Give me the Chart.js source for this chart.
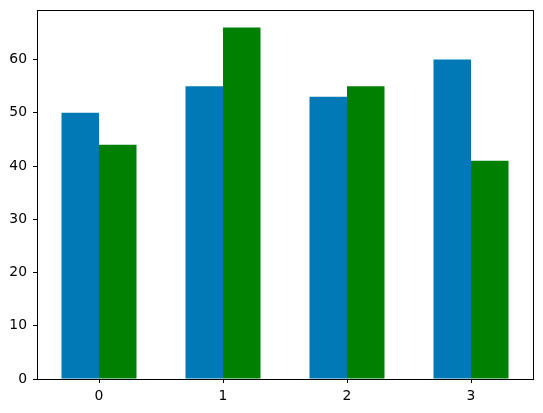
<!DOCTYPE html>
<html>
<head>
<meta charset="utf-8">
<script src="https://cdn.jsdelivr.net/npm/chart.js@4/dist/chart.umd.min.js"></script>
<style>
    html, body { margin: 0; padding: 0; background: #fff; }
    #wrap { width: 543px; height: 413px; }
</style>
</head>
<body>
<div id="wrap"><canvas id="chart" width="543" height="413"></canvas></div>
<script>
// Chart data
const categories = ['0', '1', '2', '3'];
const blueValues = [50, 55, 53, 60];
const greenValues = [44, 66, 55, 41];
const yTicks = [0, 10, 20, 30, 40, 50, 60];

// Draw the full axes box like matplotlib
const frameBox = {
    id: 'frameBox',
    afterDraw(chart) {
        const { ctx, chartArea: a } = chart;
        ctx.save();
        ctx.strokeStyle = '#000';
        ctx.lineWidth = 1;
        ctx.strokeRect(Math.round(a.left) + 0.5, Math.round(a.top) + 0.5,
            Math.round(a.right - a.left), Math.round(a.bottom - a.top));
        ctx.restore();
    }
};

const tickFont = { family: 'DejaVu Sans', size: 13.9 };

new Chart(document.getElementById('chart').getContext('2d'), {
    type: 'bar',
    data: {
        labels: categories,
        datasets: [{
            data: blueValues,
            backgroundColor: '#0079b6',
            borderWidth: 0
        }, {
            data: greenValues,
            backgroundColor: '#008000',
            borderWidth: 0
        }]
    },
    options: {
        responsive: false,
        animation: false,
        categoryPercentage: 0.605,
        barPercentage: 1,
        layout: {
            padding: { left: 0, top: 10, right: 10, bottom: 0 }
        },
        plugins: {
            legend: { display: false },
            tooltip: { enabled: false }
        },
        scales: {
            x: {
                offset: true,
                afterFit: (axis) => {
                    axis.height = 34;
                    axis.paddingLeft = 0;
                    axis.paddingRight = 0;
                },
                grid: {
                    offset: false,
                    drawOnChartArea: false,
                    tickLength: 4,
                    tickColor: '#000'
                },
                border: { display: false },
                ticks: {
                    color: '#000',
                    font: tickFont,
                    padding: 5,
                    maxRotation: 0
                }
            },
            y: {
                min: 0,
                max: 69.3,
                afterFit: (axis) => {
                    axis.width = 37;
                    axis.paddingTop = 0;
                    axis.paddingBottom = 0;
                },
                afterBuildTicks: (axis) => {
                    axis.ticks = yTicks.map(v => ({ value: v }));
                },
                grid: {
                    drawOnChartArea: false,
                    tickLength: 4,
                    tickColor: '#000'
                },
                border: { display: false },
                ticks: {
                    color: '#000',
                    font: tickFont,
                    padding: 6
                }
            }
        }
    },
    plugins: [frameBox]
});
</script>
</body>
</html>
